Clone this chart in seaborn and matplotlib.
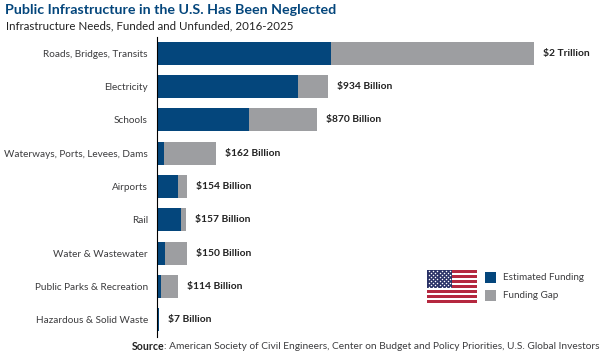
import matplotlib
matplotlib.use("Agg")
import matplotlib.pyplot as plt
import seaborn as sns
import numpy as np
import pandas as pd

categories = ["Roads, Bridges, Transits", "Electricity", "Schools",
              "Waterways, Ports, Levees, Dams", "Airports", "Rail",
              "Water & Wastewater", "Public Parks & Recreation",
              "Hazardous & Solid Waste"]
funded = [948, 768, 501, 40, 114, 131, 42, 22, 9]
total = [2054, 932, 872, 324, 162, 156, 162, 114, 9]
labels = ["$2 Trillion", "$934 Billion", "$870 Billion", "$162 Billion",
          "$154 Billion", "$157 Billion", "$150 Billion", "$114 Billion",
          "$7 Billion"]

NAVY = "#04467c"
GRAY = "#9d9ea1"
TXT = "#3c3c3e"
FONT = "Lato"

sns.set_theme(style="white")
plt.rcParams["font.family"] = [FONT, "DejaVu Sans"]

df = pd.DataFrame({"category": categories, "funded": funded, "total": total})

fig = plt.figure(figsize=(6, 3.56), dpi=100)
W, H = 600, 356
ax = fig.add_axes([157 / W, 1 - 336.5 / H, (W - 157) / W, 300 / H])

sns.barplot(data=df, y="category", x="total", color=GRAY, saturation=1,
            width=0.69, linewidth=0, ax=ax)
sns.barplot(data=df, y="category", x="funded", color=NAVY, saturation=1,
            width=0.69, linewidth=0, ax=ax)

ax.set_xlim(0, 443 / 0.1835)
ax.set_ylim(8.5, -0.5)
ax.set_xlabel("")
ax.set_ylabel("")
ax.set_xticks([])
for s in ["top", "right", "bottom"]:
    ax.spines[s].set_visible(False)
ax.spines["left"].set_color("black")
ax.spines["left"].set_linewidth(0.8)
ax.tick_params(axis="y", length=0, pad=6.5, labelsize=7.2, labelcolor=TXT)

for i, (t, lab) in enumerate(zip(total, labels)):
    ax.annotate(lab, xy=(t, i), xytext=(6.5, 0), textcoords="offset points",
                va="center", ha="left", fontsize=7.4, fontweight="bold",
                color="#222222")

fig.text(5 / W, 1 - 10 / H, "Public Infrastructure in the U.S. Has Been Neglected",
         fontsize=10.3, fontweight="bold", color=NAVY, va="center", ha="left")
fig.text(6 / W, 1 - 26 / H, "Infrastructure Needs, Funded and Unfunded, 2016-2025",
         fontsize=8.3, color="#222222", va="center", ha="left")

fig.text(132 / W, 1 - 346.5 / H, "Source", fontsize=7.6, fontweight="bold",
         color="#222222", va="center", ha="left")
fig.text(164 / W, 1 - 346.5 / H,
         ": American Society of Civil Engineers, Center on Budget and Policy Priorities, U.S. Global Investors",
         fontsize=7.25, color=TXT, va="center", ha="left")

# legend swatches
for y, col, lab in [(277.5, NAVY, "Estimated Funding"), (295, GRAY, "Funding Gap")]:
    fig.patches.append(plt.Rectangle((485 / W, 1 - (y + 5.5) / H), 11 / W, 11 / H,
                                     transform=fig.transFigure, color=col, lw=0))
    fig.text(503 / W, 1 - y / H, lab, fontsize=7.1, color=TXT, va="center", ha="left")

# flag
fx = fig.add_axes([427 / W, 1 - 303 / H, 50 / W, 33 / H])
fx.set_xlim(0, 1)
fx.set_ylim(13, 0)
fx.axis("off")
for k in range(13):
    fx.axhspan(k, k + 1, color="#b5283f" if k % 2 == 0 else "white", lw=0)
fx.fill_between([0, 0.5], 0, 7, color="#2a3266", lw=0)
sx, sy = [], []
for r in range(9):
    for c in range(6 if r % 2 == 0 else 5):
        sx.append(0.045 + c * 0.082 + (0 if r % 2 == 0 else 0.041))
        sy.append(0.45 + r * 0.76)
fx.scatter(sx, sy, s=1.2, color="white", lw=0, zorder=3)

fig.savefig("out.png", dpi=100)
